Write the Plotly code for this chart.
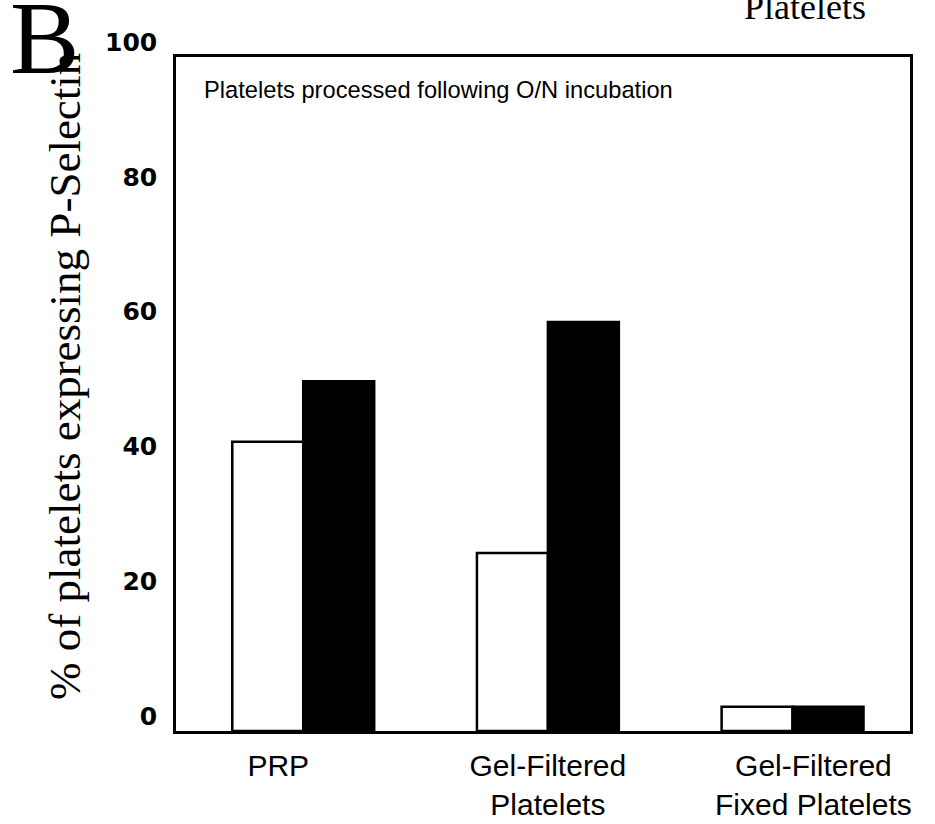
import plotly.graph_objects as go

categories = ["PRP", "Gel-Filtered<br>Platelets", "Gel-Filtered<br>Fixed Platelets"]
category_labels = ["PRP" + "&nbsp;" * 6,
                   "Gel-Filtered<br>Platelets",
                   "&nbsp;" * 5 + "Gel-Filtered<br>" + "&nbsp;" * 5 + "Fixed Platelets"]
open_values = [42.9, 26.4, 3.6]
filled_values = [51.9, 60.7, 3.6]
tick_values = [0, 20, 40, 60, 80, 100]
tick_labels = ["0", "20", "40", "60", "80", "100"]

W, H = 935, 824
L, R, T, B = 176, 25, 57, 93
plot_w = W - L - R
plot_h = H - T - B

fig = go.Figure()
fig.add_trace(go.Bar(x=categories, y=open_values,
                     marker=dict(color="white", line=dict(color="black", width=2.5)),
                     showlegend=False))
fig.add_trace(go.Bar(x=categories, y=filled_values,
                     marker=dict(color="black", line=dict(color="black", width=2.5)),
                     showlegend=False))

fig.update_layout(
    width=W, height=H,
    margin=dict(l=L, r=R, t=T, b=B, autoexpand=False),
    paper_bgcolor="white", plot_bgcolor="white",
    barmode="group", bargap=0.42, bargroupgap=0,
    font=dict(family="Liberation Sans, Arial", color="black"),
    xaxis=dict(showgrid=False, showline=True, linecolor="black", linewidth=2.5, mirror=True,
               ticks="", tickfont=dict(size=30, family="Liberation Sans, Arial"),
               tickvals=categories, ticktext=category_labels, ticklabelstandoff=6,
               range=[-0.52, 2.48], automargin=False),
    yaxis=dict(range=[0, 100], showgrid=False, zeroline=False,
               showline=True, linecolor="black", linewidth=2.5, mirror=True,
               tickvals=tick_values, ticktext=tick_labels, ticks="",
               ticklabelshift=-15, ticklabelstandoff=11, automargin=False,
               tickfont=dict(size=25, family="DejaVu Sans", weight="bold")),
)

fig.add_annotation(text="% of platelets expressing P-Selectin", textangle=-90,
                   xref="paper", yref="paper", x=(65 - L) / plot_w, y=(H - B - 377) / plot_h,
                   xanchor="center", yanchor="middle", showarrow=False,
                   font=dict(family="Liberation Serif, Times New Roman", size=45))
fig.add_annotation(text="B", xref="paper", yref="paper", x=(8 - L) / plot_w, y=(H - B - 38) / plot_h,
                   xanchor="left", yanchor="middle", showarrow=False,
                   font=dict(family="Liberation Serif, Times New Roman", size=104))
fig.add_annotation(text="Platelets", xref="paper", yref="paper", x=(805 - L) / plot_w, y=(H - B - 7) / plot_h,
                   xanchor="center", yanchor="middle", showarrow=False,
                   font=dict(family="Liberation Serif, Times New Roman", size=36))
fig.add_annotation(text="Platelets processed following O/N incubation", xref="paper", yref="paper",
                   x=(202 - L) / plot_w, y=(H - B - 90) / plot_h,
                   xanchor="left", yanchor="middle", showarrow=False,
                   font=dict(family="Liberation Sans, Arial", size=23.7))

fig.write_html("out.html", config={"displayModeBar": False},
               post_script="document.body.style.margin='0';")
